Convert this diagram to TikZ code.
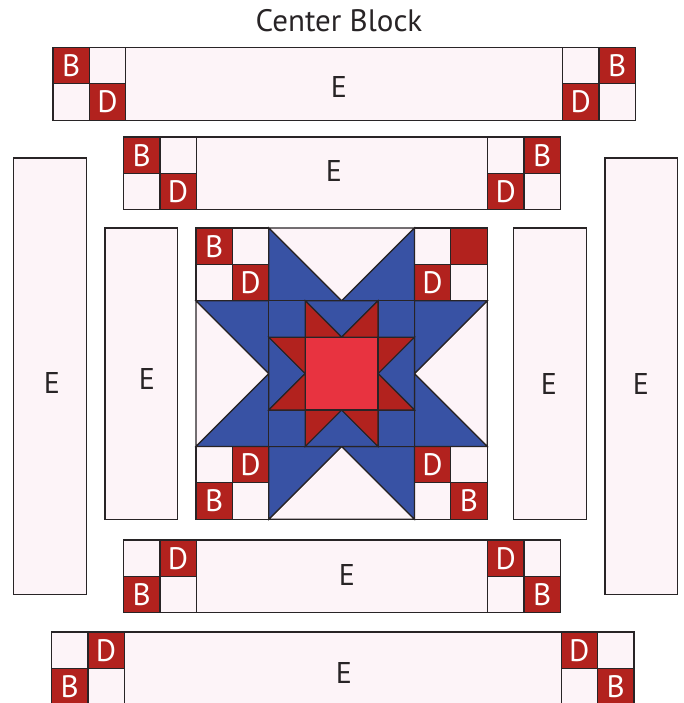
\documentclass[tikz,border=0pt]{standalone}
\usepackage{fontspec}
\setsansfont{PT Sans}
\definecolor{qline}{RGB}{40,36,38}
\definecolor{qpink}{RGB}{253,244,248}
\definecolor{qred}{RGB}{178,34,30}
\definecolor{qblue}{RGB}{56,82,164}
\definecolor{qcenter}{RGB}{232,51,64}
\tikzset{
  qbox/.style={draw=qline, line width=1.2pt, line join=miter},
  pinkc/.style={qbox, fill=qpink},
  redc/.style={qbox, fill=qred},
  bluec/.style={qbox, fill=qblue},
  ctrc/.style={qbox, fill=qcenter},
  wlbl/.style={text=white, font=\sffamily\fontsize{31}{31}\selectfont, inner sep=0pt},
  blbl/.style={text=qline, font=\sffamily\fontsize{30}{30}\selectfont, inner sep=0pt},
  ttl/.style={text=qline, font=\sffamily\fontsize{31}{31}\selectfont, inner sep=0pt},
  unitsc/.style={x=36.4pt, y=-36.4pt},
}
\newcommand\pcell[2]{\draw[pinkc] (#1,#2) rectangle ++(1,1);}
\newcommand\rcell[4]{\draw[redc] (#1,#2) rectangle ++(1,1); \node[wlbl] (#3) at (#1+0.5,#2+0.5) {#4};}
\begin{document}
\begin{tikzpicture}[x=1pt, y=-1pt]
\useasboundingbox (0,0) rectangle (683,703);

% title
\node[ttl] (title) at (339,21) {Center Block};

% ---- Row 1 (top outer strip)
\begin{scope}[shift={(53pt,-47.5pt)}, unitsc]
  \rcell{0}{0}{r1b1}{B}\pcell{1}{0}\pcell{0}{1}\rcell{1}{1}{r1d1}{D}
  \draw[pinkc] (2,0) rectangle (14,2);
  \pcell{14}{0}\rcell{15}{0}{r1b2}{B}\rcell{14}{1}{r1d2}{D}\pcell{15}{1}
\end{scope}
% ---- Row 2
\begin{scope}[shift={(123.5pt,-137pt)}, unitsc]
  \rcell{0}{0}{r2b1}{B}\pcell{1}{0}\pcell{0}{1}\rcell{1}{1}{r2d1}{D}
  \draw[pinkc] (2,0) rectangle (10,2);
  \pcell{10}{0}\rcell{11}{0}{r2b2}{B}\rcell{10}{1}{r2d2}{D}\pcell{11}{1}
\end{scope}
% ---- Row 3
\begin{scope}[shift={(123.5pt,-540pt)}, unitsc]
  \pcell{0}{0}\rcell{1}{0}{r3d1}{D}\rcell{0}{1}{r3b1}{B}\pcell{1}{1}
  \draw[pinkc] (2,0) rectangle (10,2);
  \rcell{10}{0}{r3d2}{D}\pcell{11}{0}\pcell{10}{1}\rcell{11}{1}{r3b2}{B}
\end{scope}
% ---- Row 4
\begin{scope}[shift={(51.5pt,-632pt)}, unitsc]
  \pcell{0}{0}\rcell{1}{0}{r4d1}{D}\rcell{0}{1}{r4b1}{B}\pcell{1}{1}
  \draw[pinkc] (2,0) rectangle (14,2);
  \rcell{14}{0}{r4d2}{D}\pcell{15}{0}\pcell{14}{1}\rcell{15}{1}{r4b2}{B}
\end{scope}

% ---- Columns
\draw[pinkc] (13.5,158) rectangle ++(72.8,436.8);
\draw[pinkc] (105,228) rectangle ++(72.8,291.2);
\draw[pinkc] (513.5,228) rectangle ++(72.8,291.2);
\draw[pinkc] (605,158) rectangle ++(72.8,436.8);

% ---- Center block
\begin{scope}[shift={(196pt,-228pt)}, unitsc]
  % corners
  \rcell{0}{0}{cb1}{B}\pcell{1}{0}\pcell{0}{1}\rcell{1}{1}{cd1}{D}
  \pcell{6}{0}\rcell{7}{0}{cr1}{}\rcell{6}{1}{cd2}{D}\pcell{7}{1}
  \pcell{0}{6}\rcell{1}{6}{cd3}{D}\rcell{0}{7}{cb3}{B}\pcell{1}{7}
  \rcell{6}{6}{cd4}{D}\pcell{7}{6}\pcell{6}{7}\rcell{7}{7}{cb4}{B}
  % outer geese
  \draw[pinkc] (2,0) -- (6,0) -- (4,2) -- cycle;
  \draw[bluec] (2,0) -- (4,2) -- (2,2) -- cycle;
  \draw[bluec] (6,0) -- (6,2) -- (4,2) -- cycle;
  \draw[pinkc] (2,8) -- (6,8) -- (4,6) -- cycle;
  \draw[bluec] (2,6) -- (4,6) -- (2,8) -- cycle;
  \draw[bluec] (6,6) -- (6,8) -- (4,6) -- cycle;
  \draw[pinkc] (0,2) -- (0,6) -- (2,4) -- cycle;
  \draw[bluec] (0,2) -- (2,2) -- (2,4) -- cycle;
  \draw[bluec] (0,6) -- (2,6) -- (2,4) -- cycle;
  \draw[pinkc] (8,2) -- (8,6) -- (6,4) -- cycle;
  \draw[bluec] (8,2) -- (6,2) -- (6,4) -- cycle;
  \draw[bluec] (8,6) -- (6,6) -- (6,4) -- cycle;
  % inner blue corners
  \draw[bluec] (2,2) rectangle ++(1,1);
  \draw[bluec] (5,2) rectangle ++(1,1);
  \draw[bluec] (2,5) rectangle ++(1,1);
  \draw[bluec] (5,5) rectangle ++(1,1);
  % inner geese
  \draw[bluec] (3,2) -- (5,2) -- (4,3) -- cycle;
  \draw[redc] (3,2) -- (3,3) -- (4,3) -- cycle;
  \draw[redc] (5,2) -- (5,3) -- (4,3) -- cycle;
  \draw[bluec] (3,6) -- (5,6) -- (4,5) -- cycle;
  \draw[redc] (3,5) -- (4,5) -- (3,6) -- cycle;
  \draw[redc] (5,5) -- (4,5) -- (5,6) -- cycle;
  \draw[bluec] (2,3) -- (2,5) -- (3,4) -- cycle;
  \draw[redc] (2,3) -- (3,3) -- (3,4) -- cycle;
  \draw[redc] (2,5) -- (3,5) -- (3,4) -- cycle;
  \draw[bluec] (6,3) -- (6,5) -- (5,4) -- cycle;
  \draw[redc] (6,3) -- (5,3) -- (5,4) -- cycle;
  \draw[redc] (6,5) -- (5,5) -- (5,4) -- cycle;
  % center square
  \draw[ctrc] (3,3) rectangle (5,5);
\end{scope}

% ---- E labels
\node[blbl] (e1) at (339,87) {E};
\node[blbl] (e2) at (334,171) {E};
\node[blbl] (e3) at (347,575) {E};
\node[blbl] (e4) at (344,673) {E};
\node[blbl] (e5) at (52,383) {E};
\node[blbl] (e6) at (147,379) {E};
\node[blbl] (e7) at (549,384) {E};
\node[blbl] (e8) at (641,384) {E};
\end{tikzpicture}
\end{document}
